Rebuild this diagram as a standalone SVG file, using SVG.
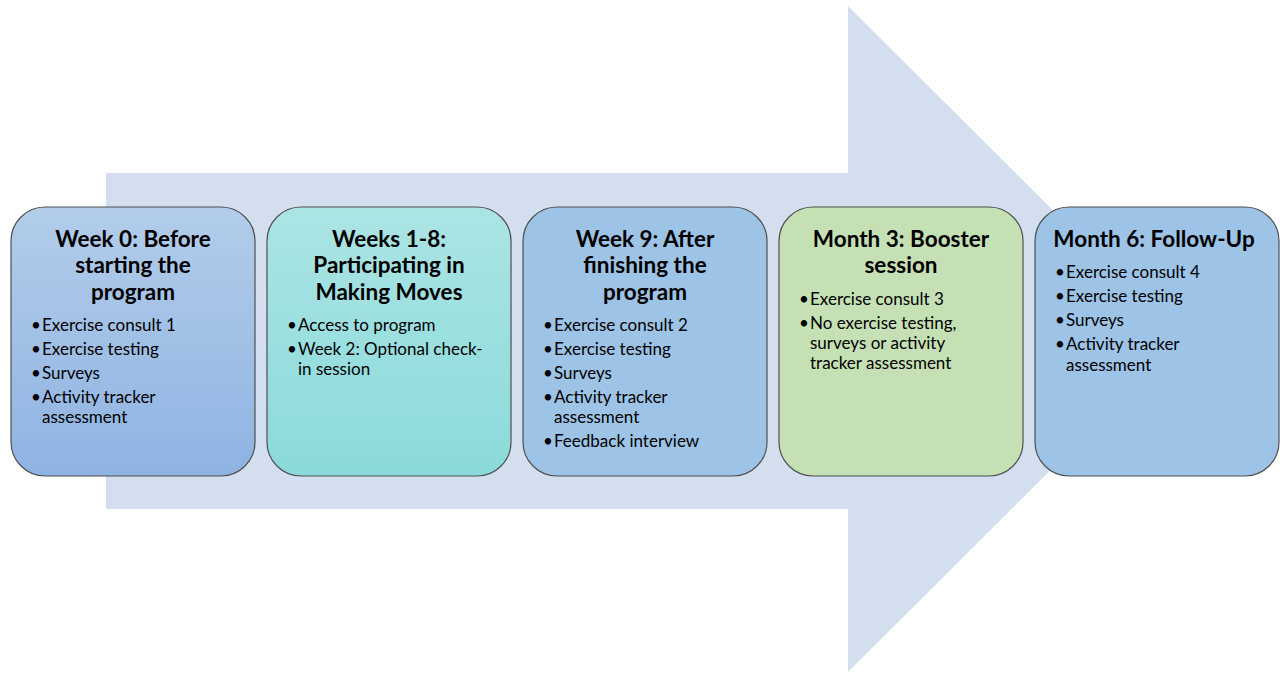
<svg xmlns="http://www.w3.org/2000/svg" width="1280" height="673" viewBox="0 0 1280 673">
<defs>
<linearGradient id="g1" x1="0" y1="0" x2="0" y2="1"><stop offset="0" stop-color="#B3CDEA"/><stop offset="1" stop-color="#8EB3E2"/></linearGradient>
<linearGradient id="g2" x1="0" y1="0" x2="0" y2="1"><stop offset="0" stop-color="#ACE4E4"/><stop offset="1" stop-color="#8ADADA"/></linearGradient>
<style>
.box{stroke:#4F4F4F;stroke-width:1.2}
.t{font-family:Lato,"Liberation Sans",sans-serif;font-weight:bold;font-size:22.5px;fill:#000;text-anchor:middle}
.b{font-family:Lato,"Liberation Sans",sans-serif;font-size:17px;fill:#000}
</style>
</defs>
<rect width="1280" height="673" fill="#fff"/>
<g id="arrow">
<polygon points="106,173 848,173 848,6 1182,339 848,672 848,509 106,509" fill="#D3DEEF"/>
</g>
<g id="connectors"></g>
<g id="node1">
<rect class="box" x="11" y="207" width="244" height="269" rx="34" fill="url(#g1)"/>
<text class="t" x="133" y="247">Week 0: Before</text>
<text class="t" x="133" y="273">starting the</text>
<text class="t" x="133" y="300">program</text>
<text class="b" x="31" y="331">•</text><text class="b" x="42" y="331">Exercise consult 1</text>
<text class="b" x="31" y="355">•</text><text class="b" x="42" y="355">Exercise testing</text>
<text class="b" x="31" y="379">•</text><text class="b" x="42" y="379">Surveys</text>
<text class="b" x="31" y="403">•</text><text class="b" x="42" y="403">Activity tracker</text>
<text class="b" x="42" y="423">assessment</text>
</g>
<g id="node2">
<rect class="box" x="267" y="207" width="244" height="269" rx="34" fill="url(#g2)"/>
<text class="t" x="389" y="247">Weeks 1-8:</text>
<text class="t" x="389" y="273">Participating in</text>
<text class="t" x="389" y="300">Making Moves</text>
<text class="b" x="287" y="331">•</text><text class="b" x="298" y="331">Access to program</text>
<text class="b" x="287" y="355">•</text><text class="b" x="298" y="355">Week 2: Optional check-</text>
<text class="b" x="298" y="375">in session</text>
</g>
<g id="node3">
<rect class="box" x="523" y="207" width="244" height="269" rx="34" fill="#9DC3E6"/>
<text class="t" x="645" y="247">Week 9: After</text>
<text class="t" x="645" y="273">finishing the</text>
<text class="t" x="645" y="300">program</text>
<text class="b" x="543" y="331">•</text><text class="b" x="554" y="331">Exercise consult 2</text>
<text class="b" x="543" y="355">•</text><text class="b" x="554" y="355">Exercise testing</text>
<text class="b" x="543" y="379">•</text><text class="b" x="554" y="379">Surveys</text>
<text class="b" x="543" y="403">•</text><text class="b" x="554" y="403">Activity tracker</text>
<text class="b" x="554" y="423">assessment</text>
<text class="b" x="543" y="447">•</text><text class="b" x="554" y="447">Feedback interview</text>
</g>
<g id="node4">
<rect class="box" x="779" y="207" width="244" height="269" rx="34" fill="#C5E0B4"/>
<text class="t" x="901" y="247">Month 3: Booster</text>
<text class="t" x="901" y="273">session</text>
<text class="b" x="799" y="305">•</text><text class="b" x="810" y="305">Exercise consult 3</text>
<text class="b" x="799" y="329">•</text><text class="b" x="810" y="329">No exercise testing,</text>
<text class="b" x="810" y="349">surveys or activity</text>
<text class="b" x="810" y="369">tracker assessment</text>
</g>
<g id="node5">
<rect class="box" x="1035" y="207" width="244" height="269" rx="34" fill="#9DC3E6"/>
<text class="t" x="1154" y="247">Month 6: Follow-Up</text>
<text class="b" x="1055" y="278">•</text><text class="b" x="1066" y="278">Exercise consult 4</text>
<text class="b" x="1055" y="302">•</text><text class="b" x="1066" y="302">Exercise testing</text>
<text class="b" x="1055" y="326">•</text><text class="b" x="1066" y="326">Surveys</text>
<text class="b" x="1055" y="350">•</text><text class="b" x="1066" y="350">Activity tracker</text>
<text class="b" x="1066" y="371">assessment</text>
</g>
</svg>
